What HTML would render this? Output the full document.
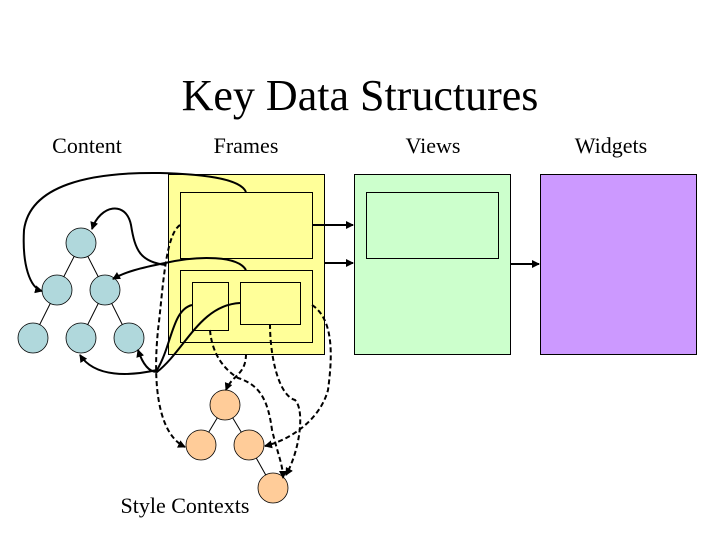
<!DOCTYPE html>
<html><head><meta charset="utf-8"><style>html,body{margin:0;padding:0;background:#fff}svg{display:block}</style></head>
<body>
<svg width="720" height="540" viewBox="0 0 720 540" xmlns="http://www.w3.org/2000/svg" font-family="Liberation Serif, serif">
<defs>
<marker id="a" markerWidth="8" markerHeight="8" refX="7" refY="4" orient="auto" markerUnits="userSpaceOnUse"><path d="M0,0 L8,4 L0,8 z" fill="#000"/></marker>
</defs>
<text x="360" y="110" font-size="44" text-anchor="middle">Key Data Structures</text>
<text x="87" y="153" font-size="22" text-anchor="middle">Content</text>
<text x="246" y="153" font-size="22" text-anchor="middle">Frames</text>
<text x="433" y="153" font-size="22" text-anchor="middle">Views</text>
<text x="611" y="153" font-size="22" text-anchor="middle">Widgets</text>
<text x="185" y="513" font-size="22" text-anchor="middle">Style Contexts</text>

<rect x="168.5" y="174.5" width="156" height="180" fill="#ffff99" stroke="#000"/>
<rect x="180.5" y="192.5" width="132" height="66" fill="#ffff99" stroke="#000"/>
<rect x="180.5" y="270.5" width="132" height="72" fill="#ffff99" stroke="#000"/>
<rect x="192.5" y="282.5" width="36" height="48" fill="#ffff99" stroke="#000"/>
<rect x="240.5" y="282.5" width="60" height="42" fill="#ffff99" stroke="#000"/>
<rect x="354.5" y="174.5" width="156" height="180" fill="#ccffcc" stroke="#000"/>
<rect x="366.5" y="192.5" width="132" height="66" fill="#ccffcc" stroke="#000"/>
<rect x="540.5" y="174.5" width="156" height="180" fill="#cc99ff" stroke="#000"/>

<g stroke="#000" stroke-width="1">
<line x1="81" y1="243" x2="57" y2="290"/><line x1="81" y1="243" x2="105" y2="290"/>
<line x1="57" y1="290" x2="33" y2="338"/><line x1="105" y1="290" x2="81" y2="338"/><line x1="105" y1="290" x2="129" y2="338"/>
<line x1="225" y1="405" x2="201" y2="445"/><line x1="225" y1="405" x2="249" y2="445"/><line x1="249" y1="445" x2="273" y2="488"/>
</g>
<g fill="#b0d8dc" stroke="#000" stroke-width="0.8">
<circle cx="81" cy="243" r="15"/><circle cx="57" cy="290" r="15"/><circle cx="105" cy="290" r="15"/>
<circle cx="33" cy="338" r="15"/><circle cx="81" cy="338" r="15"/><circle cx="129" cy="338" r="15"/>
</g>
<g fill="#ffcc99" stroke="#000" stroke-width="0.8">
<circle cx="225" cy="405" r="15"/><circle cx="201" cy="445" r="15"/><circle cx="249" cy="445" r="15"/><circle cx="273" cy="488" r="15"/>
</g>

<g fill="none" stroke="#000" stroke-width="2">
<path d="M312,225 L353,225" marker-end="url(#a)"/>
<path d="M324,263 L353,263" marker-end="url(#a)"/>
<path d="M510,264 L539,264" marker-end="url(#a)"/>
<path d="M246,192 C240,178 200,174 160,173 C90,172 30,185 24,230 C22,265 30,288 42,291" marker-end="url(#a)"/>
<path d="M246,270 C238,256 200,255 165,263 C140,268 125,272 113,279" marker-end="url(#a)"/>
<path d="M166,265 C140,262 135,250 131,225 C126,200 100,205 92,229" marker-end="url(#a)"/>
<path d="M192,305 C172,310 172,345 157,370 C130,376 95,378 80,355" marker-end="url(#a)"/>
<path d="M240,303 C200,305 185,350 157,372 C148,372 142,362 138,350" marker-end="url(#a)"/>
</g>
<g fill="none" stroke="#000" stroke-width="2" stroke-dasharray="5,3">
<path d="M180,225 C165,235 163,290 158,330 C152,390 160,435 185,447" marker-end="url(#a)"/>
<path d="M210,330 C212,355 225,370 238,378 C260,385 268,400 272,430 C278,455 283,465 283,478" marker-end="url(#a)"/>
<path d="M246,354 C246,375 232,375 226,390" marker-end="url(#a)"/>
<path d="M270,324 C270,355 278,395 295,400 C305,410 300,450 286,475" marker-end="url(#a)"/>
<path d="M312,305 C335,320 332,360 328,390 C320,420 290,440 265,446" marker-end="url(#a)"/>
</g>
</svg>
</body></html>
